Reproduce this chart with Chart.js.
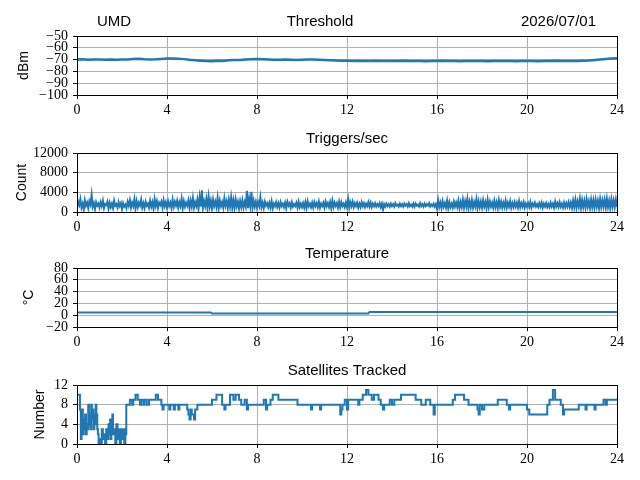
<!DOCTYPE html>
<html>
<head>
<meta charset="utf-8">
<script src="https://cdn.jsdelivr.net/npm/chart.js@4/dist/chart.umd.min.js"></script>
<style>
body{margin:0;background:#fff;width:640px;height:480px;position:relative;overflow:hidden}
canvas{position:absolute;left:0}
</style>
</head>
<body>
<canvas id="thr" width="640" height="116" style="top:0"></canvas>
<canvas id="trg" width="640" height="116" style="top:117px"></canvas>
<canvas id="tmp" width="640" height="116" style="top:232px"></canvas>
<canvas id="sat" width="640" height="116" style="top:349px"></canvas>
<script>
const stationName = 'UMD';
const topTitle = 'Threshold';
const dayLabel = '2026/07/01';
const hourTicks = [0, 4, 8, 12, 16, 20, 24];
const dbmTicks = [-100, -90, -80, -70, -60, -50];
const countTicks = [0, 4000, 8000, 12000];
const celsiusTicks = [-20, 0, 20, 40, 60, 80];
const numberTicks = [0, 4, 8, 12];

// threshold, one reading every 15 min
const thresholdStep = 0.25;
const thresholdDbm = [
  -70.0,-69.8,-70.1,-69.9, -70.0,-70.2,-69.9,-70.1, -70.0,-69.9,-69.5,-69.3,
  -69.7,-69.9,-69.8,-69.4, -69.1,-69.0,-69.2,-69.6, -70.2,-70.6,-70.9,-71.2,
  -71.3,-71.0,-71.1,-70.6, -70.3,-70.4,-69.9,-69.6, -69.5,-69.7,-69.9,-70.2,
  -70.1,-70.0,-70.2,-70.3, -70.2,-70.0,-69.9,-70.1, -70.3,-70.6,-70.8,-70.9,
  -71.0,-71.1,-70.9,-71.1, -71.2,-71.0,-71.1,-71.2, -71.1,-71.2,-71.0,-71.1,
  -71.2,-71.1,-71.3,-71.1, -71.2,-71.0,-71.2,-71.1, -71.3,-71.2,-71.1,-71.2,
  -71.1,-71.3,-71.2,-71.1, -71.2,-71.1,-71.3,-71.2, -71.1,-71.2,-71.3,-71.1,
  -71.2,-71.0,-71.2,-71.1, -71.2,-71.1,-71.0,-70.8, -70.4,-69.9,-69.4,-69.0,
  -68.8
];

// triggers per second, one reading every 3 min
const triggerStep = 0.05;
const triggerCounts = [
  700,2100,1400,2600,900,1700,500,2400,1300,1900,800,2200,1500,3500,1100,1800,600,2000,1300,1700,
  900,2000,1200,2300,800,1600,1400,2100,700,1900,1000,1700,800,2300,1300,1600,900,2000,1200,1800,
  600,1800,1100,1500,800,2100,1300,2400,900,1900,1200,2600,700,2200,1000,1900,1300,2500,900,1800,
  800,2100,1300,1700,900,2300,1100,2000,700,2600,1200,2200,800,1900,1400,2100,900,2400,1200,2000,
  900,2200,1200,1900,800,2500,1100,2100,1300,2300,900,2000,1200,2700,800,2200,1100,1900,1300,2400,
  800,2300,1100,2800,900,2000,1200,2500,700,3000,1100,4400,900,2200,1200,2700,800,3100,1100,2300,
  700,2500,1200,2100,1000,2900,800,2300,1200,2000,900,2800,1300,2200,800,2500,1100,3000,900,2400,
  800,2600,1200,2100,700,2200,1000,2400,900,2000,1100,4300,800,2700,1200,4100,900,2300,1100,2100,
  900,2000,1200,3000,1000,1900,800,2100,1300,1800,1000,1900,900,2200,800,1700,1200,2000,1000,1800,
  900,2000,1200,1700,1000,1900,800,2100,1300,1800,900,2000,1100,1600,1200,1900,900,2100,1000,1700,
  1000,1800,900,2000,800,2200,1200,1700,1000,1900,900,2000,1200,1800,1000,2100,900,1700,1200,1900,
  900,2100,1200,1800,1000,2000,800,2300,1000,1900,1200,1800,900,2100,1000,2000,1200,1700,1000,1900,
  1000,2600,900,2000,1200,2100,1000,1800,1200,1900,900,1700,1000,2000,1200,1800,1000,1700,1200,2000,
  1100,1900,1000,1700,1200,1800,1100,1600,1200,1800,1000,1700,500,1600,1100,1700,1200,1600,1100,1700,
  1200,1600,1100,1800,1300,1500,1100,1700,1200,1600,1100,1700,1300,1600,1100,1800,1200,1500,1100,1700,
  1100,1700,1300,1500,1100,1800,1200,1600,1100,1700,1200,1600,1300,1800,1100,1500,1200,1700,1100,1600,
  700,2400,1000,1900,800,2200,1100,1800,900,2300,800,2000,1000,1700,900,2100,1100,1900,1000,2300,
  800,2000,1000,2500,900,2200,1100,2700,800,2100,1000,2400,900,2000,1100,2600,800,2200,1000,2100,
  900,2400,1100,2000,800,2500,1000,2100,1100,1900,900,2300,1000,2000,800,2400,1100,2100,900,1900,
  1000,2300,900,1900,1100,2200,900,1800,1000,2000,1100,1900,900,2200,1000,1800,1100,2000,900,1700,
  1100,1800,1000,2000,900,1700,1200,1900,1100,1600,1000,1800,1100,1900,900,1700,1100,1800,1000,1600,
  1000,1900,1100,1700,900,2100,1100,1800,1000,2000,1100,1700,900,1900,1000,1800,1100,2000,1000,1900,
  800,2300,1000,2500,900,2200,1100,2700,800,2400,1000,2300,900,2600,1100,2200,800,2500,1000,2400,
  900,2500,1100,2300,800,2600,1000,2400,1100,2500,900,2700,1000,2300,800,2600,1100,2400,1000,2500,
  1000
];

const tempHours = [0, 0.75, 3, 5.95, 6.0, 9, 12.95, 13.0, 18, 24];
const tempCelsius = [4.5, 4.5, 4.5, 4.5, 3.0, 3.0, 3.0, 5.5, 5.5, 5.5];

const satHours = [
  0,0.1,0.13,0.17,0.2,0.23,0.26,0.3,0.33,0.36,0.4,0.43,0.47,0.5,0.53,0.57,0.6,0.63,0.66,0.7,
  0.73,0.77,0.8,0.83,0.86,0.9,0.93,0.96,1.0,1.05,1.1,1.15,1.2,1.25,1.3,1.35,1.4,1.43,1.47,1.5,
  1.53,1.57,1.6,1.65,1.7,1.75,1.8,1.85,1.9,1.95,2.0,2.05,2.1,2.15,2.19,2.35,2.45,2.5,2.6,2.7,
  2.8,2.85,2.95,3.0,3.1,3.2,3.5,3.6,3.75,3.8,3.85,4.1,4.15,4.3,4.35,4.5,4.55,4.9,4.95,5.0,
  5.05,5.1,5.2,5.25,5.35,6.0,6.2,6.45,6.55,6.6,6.8,6.95,7.05,7.2,7.3,7.45,7.55,7.6,8.3,8.4,
  8.45,8.6,8.7,8.95,9.8,10.4,10.45,10.8,10.85,11.7,11.75,11.8,11.9,12.0,12.05,12.5,12.55,12.7,12.85,12.95,
  13.1,13.2,13.4,13.5,13.6,13.65,13.9,14.0,14.1,14.4,15.05,15.3,15.5,15.7,15.85,15.9,16.7,16.8,17.2,17.4,
  17.8,17.85,17.9,18.0,18.1,18.7,19.1,19.2,19.25,20.0,20.1,20.9,21.0,21.15,21.25,21.5,21.6,21.65,22.3,22.6,
  22.65,23.0,23.05,23.4,23.5,23.55,24
];
const satTracked = [
  10,10,7,1,3,7,2,5,3,6,2,4,3,8,4,6,3,8,5,7,
  3,6,4,8,6,3,2,0,1,0,3,1,2,0,3,1,4,2,5,1,
  4,6,2,3,0,4,1,3,0,3,1,3,0,2,8,9,8,9,10,9,
  8,9,8,9,8,9,10,9,8,7,8,7,8,7,8,7,8,7,6,5,
  7,6,5,7,8,9,10,8,7,8,10,9,10,9,8,9,7,8,9,7,
  8,9,10,9,8,7,8,7,8,6,7,8,9,7,9,8,9,10,11,10,
  9,10,9,8,7,8,9,8,9,10,9,8,9,8,6,8,9,10,9,8,
  7,6,8,7,8,9,8,7,8,7,6,8,9,11,9,8,6,7,8,7,
  8,7,8,9,8,9,9
];

const blue = '#1f77b4';
const serif = '"Liberation Serif", "DejaVu Serif", serif';
const sans = '"Liberation Sans", "DejaVu Sans", sans-serif';

const toPoints = (xs, ys) => ys.map((y, i) => ({x: xs[i], y: y}));
const evenPoints = (step, ys) => ys.map((y, i) => ({x: i * step, y: y}));

const frame = {
  id: 'frame',
  afterDraw(chart) {
    const a = chart.chartArea, ctx = chart.ctx;
    ctx.save();
    ctx.strokeStyle = '#000';
    ctx.lineWidth = 1;
    ctx.strokeRect(Math.round(a.left) + 0.5, Math.round(a.top) + 0.5,
      Math.round(a.right - a.left), Math.round(a.bottom - a.top));
    ctx.restore();
  }
};

// the top row: station, title centred on the page, date
const header = {
  id: 'header',
  afterDraw(chart) {
    const a = chart.chartArea, ctx = chart.ctx;
    ctx.save();
    ctx.font = '15px ' + sans;
    ctx.fillStyle = '#000';
    ctx.textBaseline = 'middle';
    ctx.textAlign = 'left';
    ctx.fillText(stationName, a.left + 20, 22);
    ctx.textAlign = 'center';
    ctx.fillText(topTitle, chart.width / 2, 22);
    ctx.textAlign = 'right';
    ctx.fillText(dayLabel, a.right - 21, 22);
    ctx.restore();
  }
};

function makeChart(id, title, ylabel, labelPad, yTicks, points, line, extra) {
  return new Chart(document.getElementById(id), {
    type: 'line',
    data: {datasets: [Object.assign({
      data: points,
      borderColor: blue,
      backgroundColor: blue,
      borderWidth: 2,
      pointRadius: 0,
      tension: 0
    }, line)]},
    options: {
      responsive: false,
      animation: false,
      events: [],
      layout: {padding: {left: 0, right: 23, top: title ? 0 : 36, bottom: 0}},
      plugins: {
        legend: {display: false},
        tooltip: {enabled: false},
        title: {
          display: !!title, text: title, color: '#000', fullSize: false,
          font: {family: sans, size: 15, weight: 'normal', lineHeight: 1.2},
          padding: {top: 13, bottom: 5}
        }
      },
      scales: {
        x: {
          type: 'linear', min: 0, max: 24,
          afterFit: s => { s.height = 21; },
          afterBuildTicks: s => { s.ticks = hourTicks.map(v => ({value: v})); },
          ticks: {color: '#000', font: {family: serif, size: 14}, padding: 3, maxRotation: 0,
                  autoSkip: false, callback: v => String(v)},
          grid: {color: '#b0b0b0', tickColor: '#000', tickLength: 4, lineWidth: 1},
          border: {display: true, color: '#000'}
        },
        y: {
          min: yTicks[0], max: yTicks[yTicks.length - 1],
          afterFit: s => { s.width = 77; },
          afterBuildTicks: s => { s.ticks = yTicks.map(v => ({value: v})); },
          ticks: {color: '#000', font: {family: serif, size: 14, lineHeight: 1}, padding: 5,
                  autoSkip: false, callback: v => String(v).replace('-', '\u2212')},
          grid: {color: '#b0b0b0', tickColor: '#000', tickLength: 4, lineWidth: 1},
          border: {display: true, color: '#000'},
          title: {display: true, text: ylabel, color: '#000',
                  font: {family: sans, size: 14, lineHeight: 1.2},
                  padding: {top: labelPad, bottom: 0}}
        }
      }
    },
    plugins: extra ? [frame, extra] : [frame]
  });
}

makeChart('thr', '', 'dBm', 15.6, dbmTicks,
  evenPoints(thresholdStep, thresholdDbm), {borderWidth: 2.5}, header);
makeChart('trg', 'Triggers/sec', 'Count', 13.6, countTicks,
  evenPoints(triggerStep, triggerCounts), {borderWidth: 2});
makeChart('tmp', 'Temperature', '\u00B0C', 20.6, celsiusTicks,
  toPoints(tempHours, tempCelsius), {borderWidth: 2});
makeChart('sat', 'Satellites Tracked', 'Number', 31.6, numberTicks,
  toPoints(satHours, satTracked), {borderWidth: 2, stepped: 'before'});
</script>
</body>
</html>
